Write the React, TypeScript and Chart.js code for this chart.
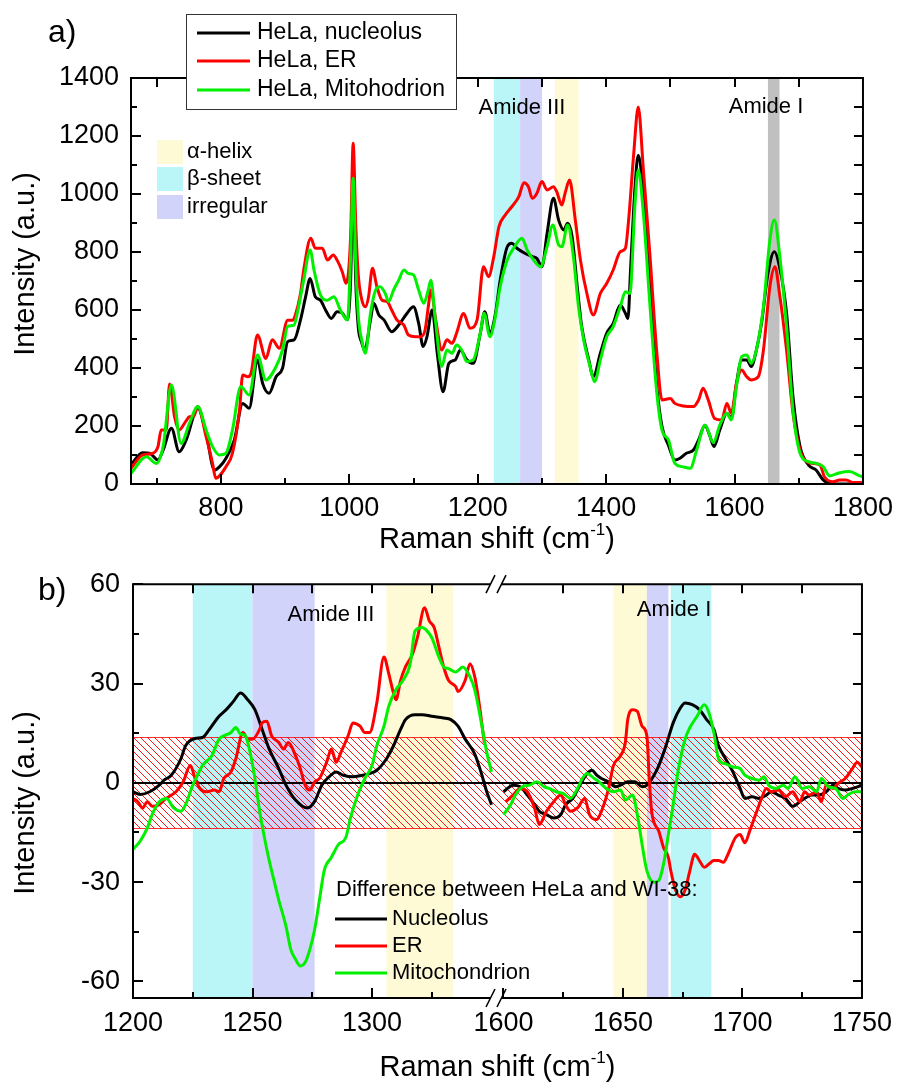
import React, { useEffect, useRef } from "react";
import { Chart, registerables } from "chart.js";
Chart.register(...registerables);

type Pt = [number, number];

// ---------------- Panel a) : HeLa spectra (Raman shift, intensity) ----------------
const nucleolusA: Pt[] = [
  [660,66],[678,108],[689,106],[702,83],[710,117],[723,192],[735,111],[746,152],[764,261],[777,175],
  [790,48],[798,60],[808,89],[821,152],[834,278],[844,261],[857,428],[865,347],[875,313],[886,370],
  [896,399],[904,491],[914,497],[924,566],[932,646],[939,709],[947,646],[955,634],[963,600],[972,571],
  [981,594],[989,589],[997,566],[1002,700],[1006,1050],[1010,700],[1014,540],[1019,490],[1024,462],[1033,566],
  [1038,623],[1046,583],[1054,566],[1066,525],[1077,548],[1090,589],[1100,611],[1108,554],[1115,474],[1121,508],
  [1129,600],[1137,451],[1146,318],[1155,416],[1165,428],[1173,462],[1183,428],[1193,416],[1204,520],[1211,594],
  [1219,520],[1227,580],[1235,703],[1246,818],[1253,830],[1261,813],[1274,795],[1285,784],[1292,778],[1300,749],
  [1308,864],[1318,985],[1326,910],[1334,876],[1340,899],[1347,853],[1355,680],[1362,542],[1373,428],[1380,370],
  [1391,451],[1401,520],[1411,554],[1422,617],[1430,589],[1434,571],[1438,738],[1445,1025],[1450,1134],[1458,991],
  [1468,680],[1479,336],[1487,198],[1497,134],[1507,83],[1515,89],[1525,106],[1536,117],[1544,152],[1554,203],
  [1561,169],[1568,129],[1577,186],[1588,244],[1595,226],[1603,347],[1611,428],[1619,428],[1626,405],[1634,462],
  [1642,554],[1652,726],[1662,801],[1670,749],[1681,589],[1691,301],[1702,129],[1715,66],[1727,48],[1738,14],
  [1748,2],[1760,0],[1780,0],[1800,0]
];
const erA: Pt[] = [
  [660,54],[678,100],[694,106],[702,129],[707,186],[715,186],[720,345],[728,230],[735,186],[745,215],
  [751,232],[758,235],[764,267],[777,163],[787,71],[792,20],[808,60],[818,106],[829,255],[834,376],
  [842,370],[847,382],[857,514],[870,433],[880,497],[891,468],[904,565],[912,565],[916,583],[924,657],
  [929,738],[940,847],[947,813],[958,813],[966,772],[975,790],[981,772],[989,732],[995,692],[1002,850],
  [1006,1175],[1010,900],[1014,720],[1019,640],[1025,611],[1030,646],[1036,744],[1043,680],[1051,634],[1059,629],
  [1066,600],[1074,566],[1085,548],[1092,514],[1103,508],[1111,508],[1118,531],[1123,611],[1127,669],[1135,560],
  [1144,462],[1152,497],[1160,485],[1167,520],[1178,588],[1188,537],[1199,566],[1209,749],[1217,715],[1225,784],
  [1233,887],[1243,928],[1253,956],[1264,991],[1272,1039],[1279,1025],[1285,985],[1292,1002],[1300,1043],[1308,1014],
  [1318,1025],[1323,1008],[1331,962],[1336,1002],[1343,1048],[1352,910],[1360,772],[1370,657],[1380,583],[1391,657],
  [1401,692],[1411,738],[1422,801],[1430,813],[1435,910],[1443,1140],[1450,1300],[1458,1083],[1468,795],[1479,451],
  [1487,290],[1500,295],[1507,278],[1520,269],[1536,267],[1544,290],[1551,330],[1559,290],[1569,226],[1580,221],
  [1588,278],[1595,244],[1603,347],[1611,393],[1619,370],[1626,359],[1637,370],[1645,462],[1655,680],[1663,749],
  [1670,657],[1681,462],[1691,244],[1702,117],[1712,77],[1722,71],[1733,66],[1740,25],[1753,8],[1764,14],
  [1774,14],[1784,5],[1800,5]
];
const mitoA: Pt[] = [
  [660,37],[684,94],[699,71],[710,129],[723,341],[738,140],[751,209],[764,267],[777,186],[787,129],
  [798,100],[808,106],[818,186],[831,336],[844,307],[857,445],[870,359],[886,405],[896,462],[904,543],
  [914,548],[919,589],[929,703],[939,807],[945,738],[955,652],[966,634],[976,646],[986,600],[997,566],
  [1002,780],[1006,1054],[1010,760],[1014,580],[1020,490],[1025,451],[1033,589],[1041,669],[1048,680],[1056,657],
  [1061,629],[1069,669],[1077,703],[1085,738],[1092,726],[1100,721],[1108,669],[1116,623],[1123,669],[1127,703],
  [1134,566],[1144,405],[1152,462],[1160,451],[1167,479],[1175,462],[1183,422],[1193,428],[1204,520],[1210,589],
  [1219,508],[1226,560],[1235,680],[1246,772],[1256,813],[1269,847],[1277,807],[1287,772],[1298,749],[1308,818],
  [1317,893],[1326,824],[1331,818],[1340,893],[1349,784],[1357,611],[1365,497],[1375,405],[1382,353],[1391,428],
  [1401,508],[1411,543],[1422,611],[1430,663],[1437,657],[1445,968],[1450,1083],[1458,933],[1468,623],[1479,313],
  [1487,186],[1497,152],[1507,71],[1518,60],[1531,54],[1541,117],[1554,203],[1567,143],[1577,203],[1588,244],
  [1595,221],[1603,336],[1611,439],[1619,445],[1626,416],[1634,462],[1645,611],[1655,841],[1662,910],[1670,795],
  [1681,543],[1691,255],[1702,106],[1715,77],[1727,71],[1738,60],[1748,28],[1764,39],[1779,43],[1795,28],
  [1800,25]
];
const labelsA = ["HeLa, nucleolus", "HeLa, ER", "HeLa, Mitohodrion"];
const xTicksA = [800, 1000, 1200, 1400, 1600, 1800];
const yTicksA = [0, 200, 400, 600, 800, 1000, 1200, 1400];
const bandFromA = [1225, 1266, 1320, 1652];
const bandToA = [1266, 1300, 1357, 1670];
const bandKindA = ["beta", "irregular", "alpha", "amide"];
const shadeLegendLabels = ["α-helix", "β-sheet", "irregular"];
const shadeLegendKinds = ["alpha", "beta", "irregular"];

// ---------------- Panel b) : differences HeLa - WI-38 ----------------
const nucleolusB: Pt[] = [
  [1200,-2.7],[1203,-3.5],[1207,-2.7],[1211,-0.7],[1213,0.8],[1216,2.3],[1220,7.2],[1222,11.2],[1226,13.4],[1229,13.7],
  [1232,16.2],[1236,20.1],[1239,22.1],[1242,24.6],[1245,27.1],[1248,25.1],[1251,22.1],[1254,16.2],[1257,10.2],[1261,4.3],
  [1264,-0.7],[1268,-5.2],[1273,-7.6],[1276,-5.6],[1279,-0.7],[1282,1.8],[1285,3.3],[1288,2.3],[1292,1.8],[1296,2.3],
  [1299,2.8],[1302,3.8],[1306,7.2],[1309,11.2],[1312,16.2],[1314,19.1],[1318,20.6],[1321,20.6],[1325,20.1],[1330,19.6],
  [1333,19.1],[1336,17.1],[1339,13.2],[1343,8.7],[1346,2.3],[1348,-2.7],[1350,-6.6],
  [1600,-2.7],[1604,-0.7],[1607,-1.2],[1610,-3.7],[1613,-6.6],[1615,-8.6],[1618,-9.6],[1621,-10.6],[1624,-9.6],[1626,-6.6],
  [1629,-4.7],[1632,-0.7],[1635,2.8],[1637,3.8],[1639,2.3],[1641,1.3],[1644,0.3],[1647,-1.2],[1649,-0.7],[1652,0.3],
  [1655,0.3],[1658,-1.2],[1660,-0.7],[1663,2.3],[1665,5.2],[1668,11.2],[1671,18.1],[1674,22.6],[1676,24.1],[1679,23.6],
  [1682,22.1],[1685,19.1],[1688,16.2],[1690,11.2],[1693,7.2],[1696,3.3],[1699,-1.7],[1701,-4.7],[1704,-4.2],[1707,-4.7],
  [1710,-3.7],[1712,-2.7],[1715,-3.7],[1718,-4.7],[1721,-7.1],[1724,-5.7],[1726,-4.7],[1729,-3.7],[1732,-3.7],[1735,-2.7],
  [1738,-0.7],[1740,-1.7],[1743,-2.2],[1746,-1.7],[1750,-0.7]
];
const erB: Pt[] = [
  [1200,-4.7],[1202,-5.7],[1204,-7.6],[1206,-5.7],[1208,-7.1],[1211,-6.6],[1213,-5.2],[1215,-4.2],[1218,-2.7],[1221,0.3],
  [1224,5.2],[1226,1.3],[1228,-1.7],[1231,-2.7],[1234,-2.2],[1236,-2.7],[1238,1.3],[1241,3.3],[1243,7.2],[1246,15.2],
  [1248,13.2],[1250,13.2],[1253,16.2],[1254,18.1],[1256,18.6],[1258,14.2],[1261,12.2],[1263,10.2],[1265,12.2],[1268,8.2],
  [1270,4.3],[1272,-0.7],[1274,-2.2],[1276,0.3],[1278,1.3],[1281,6.2],[1283,10.2],[1285,6.2],[1287,9.2],[1290,14.2],
  [1292,18.1],[1295,17.1],[1297,15.2],[1299,15.2],[1302,24.1],[1305,38.0],[1307,33.0],[1309,27.1],[1310,25.1],[1312,31.0],
  [1314,35.0],[1317,39.0],[1319,43.9],[1322,52.9],[1324,48.9],[1326,46.9],[1328,41.0],[1330,35.0],[1332,31.0],[1335,29.1],
  [1336,27.6],[1339,31.0],[1341,36.0],[1343,32.0],[1345,23.1],[1347,12.0],
  [1601,-5.7],[1604,-3.7],[1607,-1.7],[1610,-2.7],[1613,-7.6],[1615,-12.6],[1618,-8.6],[1621,-5.7],[1624,-3.7],[1626,-6.6],
  [1628,-8.6],[1631,-7.6],[1634,-4.7],[1636,-9.6],[1639,-11.1],[1641,-8.6],[1644,-1.7],[1646,5.2],[1649,8.2],[1651,12.2],
  [1652,19.1],[1654,22.1],[1656,21.6],[1658,17.1],[1660,14.2],[1661,1.3],[1662,-8.6],[1665,-14.6],[1667,-19.6],[1669,-22.5],
  [1670,-26.5],[1672,-32.4],[1674,-34.4],[1676,-32.4],[1678,-26.5],[1680,-21.6],[1682,-23.5],[1684,-25.5],[1686,-24.5],[1688,-23.5],
  [1690,-23.5],[1692,-24.0],[1694,-21.5],[1697,-16.6],[1699,-15.6],[1701,-18.1],[1703,-14.6],[1706,-8.6],[1708,-4.7],[1710,-1.7],
  [1712,-2.7],[1715,-2.2],[1718,-4.2],[1721,-2.7],[1724,-5.7],[1726,-2.7],[1728,-3.7],[1731,-2.7],[1733,-5.7],[1735,-0.7],
  [1738,-1.7],[1740,-0.2],[1743,1.3],[1746,4.3],[1748,6.2],[1750,4.7]
];
const mitoB: Pt[] = [
  [1200,-20.1],[1203,-17.6],[1206,-13.6],[1208,-9.6],[1211,-5.7],[1214,-4.7],[1217,-7.6],[1220,-8.6],[1222,-6.6],[1225,-0.7],
  [1227,2.3],[1229,5.2],[1233,8.2],[1236,13.2],[1238,14.2],[1241,15.2],[1243,16.7],[1245,14.7],[1247,14.2],[1249,9.2],
  [1251,1.3],[1253,-8.6],[1255,-16.6],[1257,-23.5],[1259,-29.5],[1261,-35.4],[1264,-43.3],[1266,-50.3],[1268,-53.3],[1270,-55.3],
  [1272,-54.3],[1274,-50.3],[1276,-44.3],[1278,-35.4],[1280,-26.5],[1283,-22.5],[1286,-18.6],[1289,-16.6],[1291,-10.6],[1294,-3.7],
  [1297,1.3],[1300,5.2],[1302,11.2],[1305,17.1],[1307,23.1],[1310,28.1],[1313,31.0],[1316,36.0],[1318,45.9],[1321,46.9],
  [1323,45.9],[1325,43.9],[1328,38.0],[1330,35.0],[1332,34.5],[1335,33.5],[1338,35.0],[1341,32.0],[1343,28.1],[1346,17.1],
  [1348,9.2],[1350,3.3],
  [1600,-9.6],[1603,-6.6],[1605,-3.7],[1608,-1.2],[1611,-0.7],[1614,0.3],[1617,-1.2],[1619,-1.7],[1622,-2.7],[1625,-3.2],
  [1628,-4.7],[1631,-1.7],[1633,1.3],[1635,2.8],[1638,1.3],[1640,0.3],[1643,-1.7],[1646,-2.7],[1649,-2.2],[1651,-5.2],
  [1654,-3.7],[1656,-9.6],[1658,-18.6],[1660,-26.5],[1663,-30.0],[1665,-29.5],[1667,-24.5],[1669,-15.6],[1671,-6.6],[1673,3.3],
  [1676,13.2],[1678,16.7],[1681,20.1],[1684,23.6],[1686,21.1],[1688,15.2],[1690,7.2],[1693,5.7],[1696,4.8],[1699,4.3],
  [1701,2.3],[1704,1.3],[1707,0.8],[1709,1.8],[1711,-0.7],[1714,-1.7],[1717,-0.7],[1719,-1.7],[1722,1.8],[1725,-1.7],
  [1728,-1.2],[1731,-2.7],[1733,1.3],[1736,-1.2],[1739,-1.7],[1742,-4.7],[1744,-3.7],[1747,-2.7],[1750,-2.7]
];
const labelsB = ["Nucleolus", "ER", "Mitochondrion"];
const legendTitleB = "Difference between HeLa and WI-38:";
const xTicksB = [1200, 1250, 1300, 1600, 1650, 1700, 1750];
const xMinorB = [1225, 1275, 1325, 1625, 1675, 1725];
const yTicksB = [-60, -30, 0, 30, 60];
const yMinorB = [-45, -15, 15, 45];
const bandFromB = [1225, 1250, 1306, 1646, 1660, 1670];
const bandToB = [1250, 1276, 1334, 1660, 1669, 1687];
const bandKindB = ["beta", "irregular", "alpha", "alpha", "irregular", "beta"];
const noiseLevel = 13.8;

// ---------------- styles ----------------
const FONT = '"Liberation Sans", Arial, Helvetica, sans-serif';
const SERIES_COLORS = ["#000000", "#ff0000", "#00f000"];
const BAND_COLORS: Record<string, string> = {
  alpha: "rgb(254,250,214)",
  beta: "rgb(186,246,247)",
  irregular: "rgb(210,211,250)",
  amide: "rgb(192,192,192)",
};

const BREAK_LO = 1350, BREAK_HI = 1600, SHIFT = 245;
const toAxis = (v: number) => (v >= BREAK_HI ? v - SHIFT : v);
const fromAxis = (v: number) => (v > BREAK_LO + 2 ? v + SHIFT : v);

const toPts = (d: Pt[]) => d.map(([x, y]) => ({ x, y }));
function toBrokenPts(d: Pt[]) {
  const out: { x: number; y: number | null }[] = [];
  d.forEach(([x, y], i) => {
    if (i > 0 && d[i - 1][0] <= BREAK_LO && x >= BREAK_HI) out.push({ x: BREAK_LO + 2, y: null });
    out.push({ x: toAxis(x), y });
  });
  return out;
}
const range = (a: number, b: number, s: number) => {
  const r: number[] = [];
  for (let v = a; v <= b + 1e-9; v += s) r.push(v);
  return r;
};

function seg(ctx: CanvasRenderingContext2D, x1: number, y1: number, x2: number, y2: number) {
  ctx.beginPath();
  ctx.moveTo(x1, y1);
  ctx.lineTo(x2, y2);
  ctx.stroke();
}
function txt(ctx: CanvasRenderingContext2D, s: string, x: number, y: number, size: number, align: CanvasTextAlign = "left", base: CanvasTextBaseline = "middle") {
  ctx.font = `${size}px ${FONT}`;
  ctx.fillStyle = "#000";
  ctx.textAlign = align;
  ctx.textBaseline = base;
  ctx.fillText(s, x, y);
}
function xTitle(ctx: CanvasRenderingContext2D, cx: number, baseline: number) {
  const main = "Raman shift (cm", sup = "-1", end = ")";
  ctx.font = `29px ${FONT}`;
  const w1 = ctx.measureText(main).width, w3 = ctx.measureText(end).width;
  ctx.font = `17px ${FONT}`;
  const w2 = ctx.measureText(sup).width;
  const x0 = cx - (w1 + w2 + w3) / 2;
  txt(ctx, main, x0, baseline, 29, "left", "alphabetic");
  txt(ctx, sup, x0 + w1, baseline - 13, 17, "left", "alphabetic");
  txt(ctx, end, x0 + w1 + w2, baseline, 29, "left", "alphabetic");
}
function yTitle(ctx: CanvasRenderingContext2D, cx: number, cy: number) {
  ctx.save();
  ctx.translate(cx, cy);
  ctx.rotate(-Math.PI / 2);
  txt(ctx, "Intensity (a.u.)", 0, 0, 29, "center", "middle");
  ctx.restore();
}
function drawBands(chart: any, from: number[], to: number[], kinds: string[], map: (v: number) => number) {
  const { ctx, chartArea, scales } = chart;
  ctx.save();
  from.forEach((f, i) => {
    const x1 = scales.x.getPixelForValue(map(f));
    const x2 = scales.x.getPixelForValue(map(to[i]));
    ctx.fillStyle = BAND_COLORS[kinds[i]];
    ctx.fillRect(x1, chartArea.top, x2 - x1, chartArea.bottom - chartArea.top);
  });
  ctx.restore();
}
function drawTickSet(chart: any, spec: any, map: (v: number) => number) {
  const { ctx, chartArea: { left, right, top, bottom }, scales: { x, y } } = chart;
  ctx.save();
  ctx.strokeStyle = "#000";
  ctx.lineWidth = 2;
  const px = (v: number) => Math.round(x.getPixelForValue(map(v)));
  const py = (v: number) => Math.round(y.getPixelForValue(v));
  spec.bottomMajor.forEach((v: number) => seg(ctx, px(v), bottom, px(v), bottom - 10));
  spec.bottomMinor.forEach((v: number) => seg(ctx, px(v), bottom, px(v), bottom - 6));
  spec.top.forEach((v: number) => seg(ctx, px(v), top, px(v), top + 9));
  spec.leftMajor.forEach((v: number) => seg(ctx, left, py(v), left + 10, py(v)));
  spec.leftMinor.forEach((v: number) => seg(ctx, left, py(v), left + 6, py(v)));
  spec.right.forEach((v: number) => seg(ctx, right, py(v), right - 9, py(v)));
  ctx.restore();
}

const commonLine = { borderWidth: 3, cubicInterpolationMode: "monotone" as const };
const plainLabel = (v: any) => String(v);

export default function App() {
  const refA = useRef<HTMLCanvasElement>(null);
  const refB = useRef<HTMLCanvasElement>(null);

  useEffect(() => {
    // ---------- Panel a ----------
    const pluginA = {
      id: "panelA",
      beforeDatasetsDraw(chart: any) {
        drawBands(chart, bandFromA, bandToA, bandKindA, (v) => v);
      },
      afterDatasetsDraw(chart: any) {
        const { ctx, chartArea: { left, right, top, bottom } } = chart;
        ctx.save();
        ctx.strokeStyle = "#000";
        ctx.lineWidth = 2;
        ctx.strokeRect(left, top, right - left, bottom - top);
        ctx.restore();
        drawTickSet(chart, {
          bottomMajor: xTicksA, bottomMinor: range(700, 1700, 200), top: range(700, 1700, 100),
          leftMajor: yTicksA, leftMinor: range(100, 1300, 200), right: range(100, 1300, 100),
        }, (v) => v);
        txt(ctx, "Amide III", 522, 108, 22, "center");
        txt(ctx, "Amide I", 766, 107, 22, "center");
        shadeLegendLabels.forEach((lab, i) => {
          const yy = [140, 167, 195][i];
          ctx.fillStyle = BAND_COLORS[shadeLegendKinds[i]];
          ctx.fillRect(157, yy, 26, 24);
          txt(ctx, lab, 187, yy + 12, 22);
        });
        ctx.save();
        ctx.fillStyle = "#fff";
        ctx.fillRect(186, 14, 271, 95);
        ctx.strokeStyle = "#333";
        ctx.lineWidth = 1;
        ctx.strokeRect(186.5, 14.5, 270, 95);
        chart.data.datasets.forEach((ds: any, i: number) => {
          const yy = [33, 61, 90][i];
          ctx.strokeStyle = ds.borderColor;
          ctx.lineWidth = 3;
          seg(ctx, 197, yy, 250, yy);
          txt(ctx, ds.label, 257, yy, 23);
        });
        ctx.restore();
        txt(ctx, "a)", 48, 42, 32, "left", "alphabetic");
        xTitle(ctx, (left + right) / 2, 548);
        yTitle(ctx, 26, 264);
      },
    };

    const chartA = new Chart(refA.current as HTMLCanvasElement, {
      type: "line",
      data: {
        datasets: [nucleolusA, erA, mitoA].map((d, i) => ({
          label: labelsA[i],
          data: toPts(d),
          borderColor: SERIES_COLORS[i],
          backgroundColor: SERIES_COLORS[i],
          order: 3 - i,
          ...commonLine,
        })),
      },
      options: {
        animation: false,
        responsive: false,
        layout: { padding: { top: 78, right: 36, left: 0, bottom: 0 } },
        elements: { point: { radius: 0 } },
        plugins: { legend: { display: false }, tooltip: { enabled: false }, title: { display: false } },
        scales: {
          x: {
            type: "linear", min: 660, max: 1800,
            afterBuildTicks: (s: any) => { s.ticks = xTicksA.map((v) => ({ value: v })); },
            afterFit: (s: any) => { s.height = 71; },
            grid: { display: false, drawTicks: false }, border: { display: false },
            ticks: { font: { family: FONT, size: 27 }, color: "#000", padding: 8, maxRotation: 0, minRotation: 0, autoSkip: false, callback: plainLabel },
          },
          y: {
            type: "linear", min: 0, max: 1400,
            afterBuildTicks: (s: any) => { s.ticks = yTicksA.map((v) => ({ value: v })); },
            afterFit: (s: any) => { s.width = 131; },
            grid: { display: false, drawTicks: false }, border: { display: false },
            ticks: { font: { family: FONT, size: 27 }, color: "#000", padding: 12, autoSkip: false, callback: plainLabel },
          },
        },
      },
      plugins: [pluginA],
    } as any);

    // ---------- Panel b ----------
    let hatch: CanvasPattern | null = null;
    const pluginB = {
      id: "panelB",
      beforeDatasetsDraw(chart: any) {
        const { ctx, chartArea: { left, right }, scales: { y } } = chart;
        drawBands(chart, bandFromB, bandToB, bandKindB, toAxis);
        if (!hatch) {
          const c = document.createElement("canvas");
          c.width = 7; c.height = 7;
          const g = c.getContext("2d") as CanvasRenderingContext2D;
          g.strokeStyle = "rgba(255,0,0,0.9)";
          g.lineWidth = 1;
          g.beginPath();
          g.moveTo(-1, -1); g.lineTo(8, 8);
          g.moveTo(-1, 6); g.lineTo(1, 8);
          g.moveTo(6, -1); g.lineTo(8, 1);
          g.stroke();
          hatch = ctx.createPattern(c, "repeat");
        }
        const yTop = y.getPixelForValue(noiseLevel), yBot = y.getPixelForValue(-noiseLevel);
        ctx.save();
        ctx.fillStyle = hatch as any;
        ctx.fillRect(left, yTop, right - left, yBot - yTop);
        ctx.strokeStyle = "rgba(255,0,0,0.8)";
        ctx.lineWidth = 1;
        ctx.strokeRect(left + 0.5, Math.round(yTop) + 0.5, right - left - 1, Math.round(yBot - yTop));
        ctx.strokeStyle = "#000";
        ctx.lineWidth = 2;
        const y0 = Math.round(y.getPixelForValue(0));
        seg(ctx, left, y0, right, y0);
        ctx.restore();
      },
      afterDatasetsDraw(chart: any) {
        const { ctx, chartArea: { left, right, top, bottom }, scales: { x } } = chart;
        const b1 = Math.round(x.getPixelForValue(BREAK_LO)) - 2;
        const b2 = Math.round(x.getPixelForValue(toAxis(BREAK_HI))) - 2;
        ctx.save();
        ctx.strokeStyle = "#000";
        ctx.lineWidth = 2;
        seg(ctx, left, top, left, bottom);
        seg(ctx, right, top, right, bottom);
        [top, bottom].forEach((yy) => {
          seg(ctx, left - 1, yy, b1, yy);
          seg(ctx, b2, yy, right + 1, yy);
          ctx.lineWidth = 1.5;
          seg(ctx, b1 - 4, yy + 9, b1 + 5, yy - 9);
          seg(ctx, b2 - 4, yy + 9, b2 + 5, yy - 9);
          ctx.lineWidth = 2;
        });
        ctx.restore();
        drawTickSet(chart, {
          bottomMajor: xTicksB, bottomMinor: xMinorB,
          top: [1225, 1250, 1275, 1300, 1325, 1625, 1650, 1675, 1700, 1725],
          leftMajor: yTicksB, leftMinor: yMinorB, right: range(-60, 45, 15),
        }, toAxis);
        txt(ctx, "Amide III", 331, 60, 22, "center");
        txt(ctx, "Amide I", 674, 55, 22, "center");
        txt(ctx, legendTitleB, 336, 335, 22);
        ctx.save();
        chart.data.datasets.forEach((ds: any, i: number) => {
          const yy = [364, 391, 418][i];
          ctx.strokeStyle = ds.borderColor;
          ctx.lineWidth = 3;
          seg(ctx, 335, yy, 387, yy);
          txt(ctx, ds.label, 392, yy, 22);
        });
        ctx.restore();
        txt(ctx, "b)", 38, 45, 32, "left", "alphabetic");
        xTitle(ctx, (left + right) / 2, 521);
        yTitle(ctx, 26, 248);
      },
    };

    const chartB = new Chart(refB.current as HTMLCanvasElement, {
      type: "line",
      data: {
        datasets: [nucleolusB, erB, mitoB].map((d, i) => ({
          label: labelsB[i],
          data: toBrokenPts(d),
          borderColor: SERIES_COLORS[i],
          backgroundColor: SERIES_COLORS[i],
          spanGaps: false,
          order: 3 - i,
          ...commonLine,
        })),
      },
      options: {
        animation: false,
        responsive: false,
        layout: { padding: { top: 23, right: 36, left: 0, bottom: 0 } },
        elements: { point: { radius: 0 } },
        plugins: { legend: { display: false }, tooltip: { enabled: false }, title: { display: false } },
        scales: {
          x: {
            type: "linear", min: toAxis(1200), max: toAxis(1750),
            afterBuildTicks: (s: any) => { s.ticks = xTicksB.map((v) => ({ value: toAxis(v) })); },
            afterFit: (s: any) => { s.height = 88; },
            grid: { display: false, drawTicks: false }, border: { display: false },
            ticks: {
              font: { family: FONT, size: 27 }, color: "#000", padding: 9, maxRotation: 0, minRotation: 0, autoSkip: false,
              callback: (v: any) => String(fromAxis(Number(v))),
            },
          },
          y: {
            type: "linear", min: -65, max: 60,
            afterBuildTicks: (s: any) => { s.ticks = yTicksB.map((v) => ({ value: v })); },
            afterFit: (s: any) => { s.width = 133; },
            grid: { display: false, drawTicks: false }, border: { display: false },
            ticks: { font: { family: FONT, size: 27 }, color: "#000", padding: 13, autoSkip: false, callback: plainLabel },
          },
        },
      },
      plugins: [pluginB],
    } as any);

    return () => {
      chartA.destroy();
      chartB.destroy();
    };
  }, []);

  return (
    <div style={{ position: "absolute", left: 0, top: 0, width: 901, height: 1086, background: "#fff", overflow: "hidden" }}>
      <canvas ref={refA} width={901} height={555} style={{ position: "absolute", left: 0, top: 0 }} />
      <canvas ref={refB} width={901} height={531} style={{ position: "absolute", left: 0, top: 555 }} />
    </div>
  );
}
